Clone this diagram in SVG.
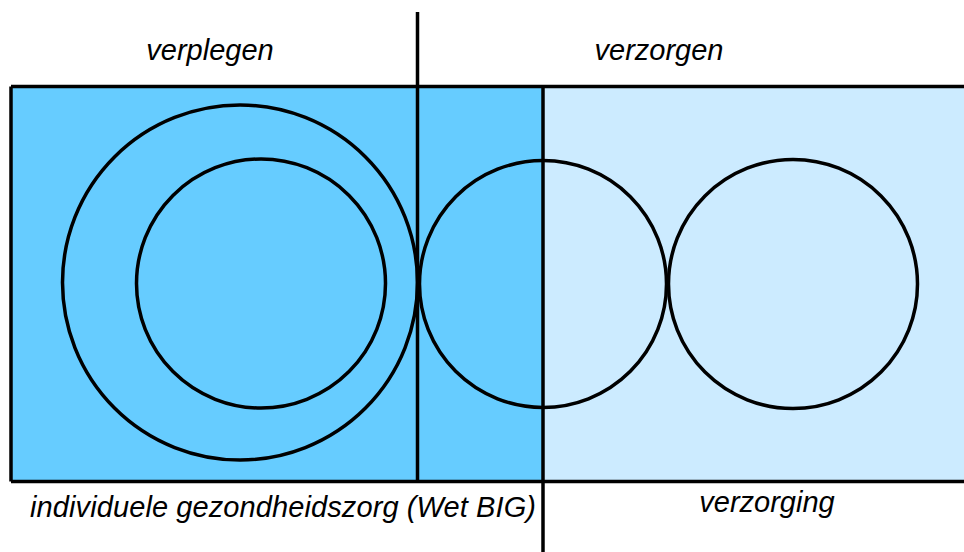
<svg xmlns="http://www.w3.org/2000/svg" width="964" height="552" viewBox="0 0 964 552">
<style>
.ln{stroke:#000;stroke-width:3.5;fill:none}
.t{font-family:"Liberation Sans",Arial,sans-serif;font-style:italic;font-size:29px;fill:#000}
</style>
<rect width="964" height="552" fill="#fff"/>
<g id="areas">
<rect id="area-big" x="11" y="86.5" width="532" height="395" fill="#66CCFF"/>
<rect id="area-verzorging" x="543" y="86.5" width="430" height="395" fill="#CCEBFF"/>
<path class="ln" d="M11 86.5 H975 M11 481.5 H975 M11 86.5 V481.5"/>
</g>
<g id="circles">
<circle id="c-outer" class="ln" cx="240" cy="282.5" r="177.5"/>
<circle id="c-inner" class="ln" cx="261" cy="283.5" r="124.5"/>
<circle id="c-mid" class="ln" cx="543" cy="284" r="123.5"/>
<circle id="c-right" class="ln" cx="793" cy="284" r="124.5"/>
</g>
<g id="connectors">
<line class="ln" x1="417.5" y1="12" x2="417.5" y2="481.5"/>
<line class="ln" x1="543" y1="86.5" x2="543" y2="552"/>
</g>
<g id="labels">
<text class="t" x="210" y="60" text-anchor="middle">verplegen</text>
<text class="t" x="659" y="60" text-anchor="middle">verzorgen</text>
<text class="t" x="30" y="517" textLength="506" lengthAdjust="spacing">individuele gezondheidszorg (Wet BIG)</text>
<text class="t" x="767" y="512" text-anchor="middle">verzorging</text>
</g>
</svg>
